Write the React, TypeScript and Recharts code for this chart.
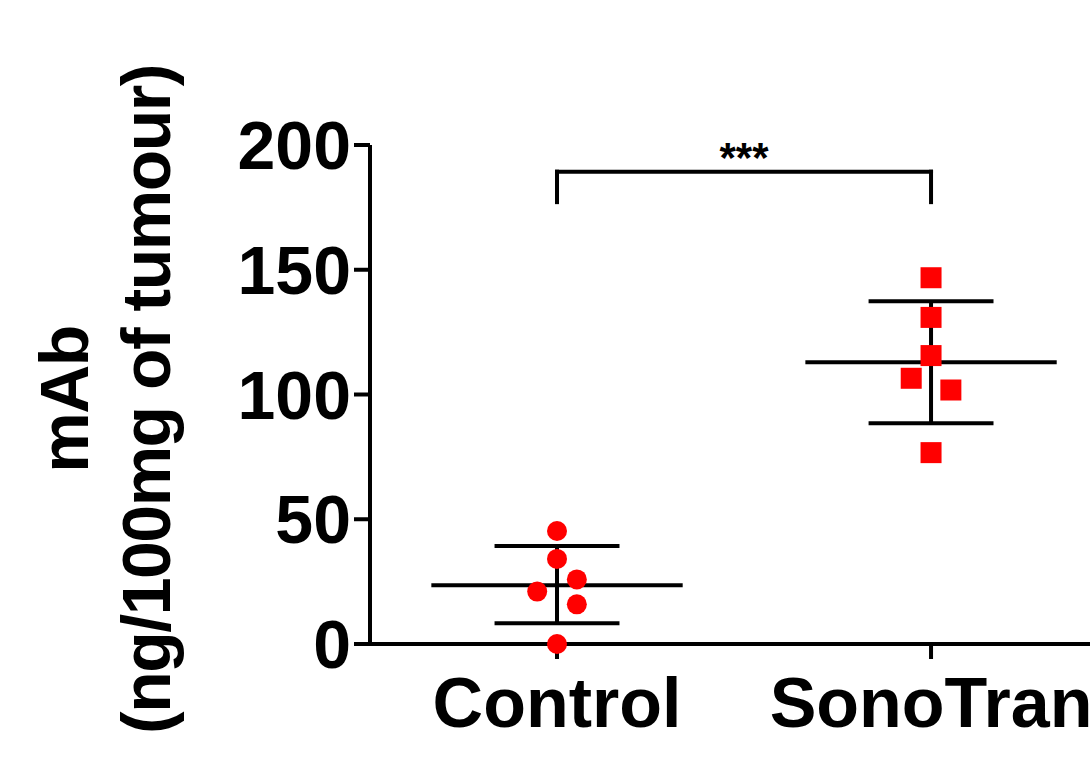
import { ScatterChart, Scatter, XAxis, YAxis, ReferenceLine } from 'recharts';

// group positions on the numeric x axis
const GROUPS = ['Control', 'SonoTran'];
const GROUP_POS = [1, 2];

// individual animals (x = jittered group position)
const CONTROL_X = [1, 1, 1.053, 0.947, 1.053, 1];
const CONTROL_Y = [45.3, 34.1, 25.9, 21.0, 15.9, 0];
const SONO_X = [2, 2, 2, 1.947, 2.053, 2];
const SONO_Y = [146.8, 130.9, 115.6, 106.5, 101.8, 76.7];

// mean +/- SD
const MEANS = [23.5, 112.9];
const SD_UPPER = [39.3, 137.4];
const SD_LOWER = [8.3, 88.5];

const Y_TICKS = [0, 50, 100, 150, 200];
const BRACKET_TOP = 189.3;
const BRACKET_BOTTOM = 177.1;
const SIGNIF = '***';

const FONT = '"Liberation Sans", Arial, Helvetica, sans-serif';
const MEAN_HALF = 0.336;
const SD_HALF = 0.167;
const LINE_W = 4;

const controlData = CONTROL_X.map((x, i) => ({ x, y: CONTROL_Y[i] }));
const sonoData = SONO_X.map((x, i) => ({ x, y: SONO_Y[i] }));

const RedCircle = (p: any) => <circle cx={p.cx} cy={p.cy} r={10} fill="#ff0000" />;
const RedSquare = (p: any) => (
  <rect x={p.cx - 10.5} y={p.cy - 10.5} width={21} height={21} fill="#ff0000" />
);

const YTitle = (props: any) => {
  const vb = props.viewBox || { y: 145, height: 499 };
  const cy = vb.y + vb.height / 2 + 5;
  const style = { fontFamily: FONT, fontWeight: 700, fontSize: 68, letterSpacing: -1.5 };
  return (
    <g>
      <text x={88} y={cy} textAnchor="middle" transform={`rotate(-90 88 ${cy})`} style={style} fill="#000">
        mAb
      </text>
      <text x={170} y={cy} textAnchor="middle" transform={`rotate(-90 170 ${cy})`} style={style} fill="#000">
        (ng/100mg of tumour)
      </text>
    </g>
  );
};

const Stars = (props: any) => {
  const vb = props.viewBox;
  if (!vb) return null;
  return (
    <text
      x={vb.x + vb.width / 2}
      y={vb.y}
      textAnchor="middle"
      style={{ fontFamily: FONT, fontWeight: 700, fontSize: 42 }}
      fill="#000"
    >
      {SIGNIF}
    </text>
  );
};

export default function App() {
  return (
    <div style={{ position: 'absolute', left: 0, top: 0, background: '#fff' }}>
      <ScatterChart width={1090} height={770} margin={{ top: 145, right: 0, bottom: 0, left: 0 }}>
        <XAxis
          type="number"
          dataKey="x"
          domain={[0.5, 2.425]}
          ticks={GROUP_POS}
          tickFormatter={(v: number) => GROUPS[GROUP_POS.indexOf(v)] ?? ''}
          height={126}
          tickSize={15}
          tickMargin={18}
          axisLine={{ stroke: '#000', strokeWidth: LINE_W }}
          tickLine={{ stroke: '#000', strokeWidth: LINE_W }}
          tick={{ fill: '#000', fontFamily: FONT, fontWeight: 700, fontSize: 70 }}
          allowDataOverflow
        />
        <YAxis
          type="number"
          dataKey="y"
          domain={[0, 200]}
          ticks={Y_TICKS}
          width={370}
          tickSize={16}
          tickMargin={3}
          axisLine={{ stroke: '#000', strokeWidth: LINE_W }}
          tickLine={{ stroke: '#000', strokeWidth: LINE_W }}
          tick={{ fill: '#000', fontFamily: FONT, fontWeight: 700, fontSize: 68 }}
          label={<YTitle />}
        />
        <Scatter data={controlData} shape={RedCircle} isAnimationActive={false} />
        <Scatter data={sonoData} shape={RedSquare} isAnimationActive={false} />
        {GROUP_POS.map((g, i) => (
          <ReferenceLine
            key={`mean-${g}`}
            segment={[{ x: g - MEAN_HALF, y: MEANS[i] }, { x: g + MEAN_HALF, y: MEANS[i] }]}
            stroke="#000"
            strokeWidth={LINE_W}
          />
        ))}
        {GROUP_POS.map((g, i) => (
          <ReferenceLine
            key={`sdu-${g}`}
            segment={[{ x: g - SD_HALF, y: SD_UPPER[i] }, { x: g + SD_HALF, y: SD_UPPER[i] }]}
            stroke="#000"
            strokeWidth={LINE_W}
          />
        ))}
        {GROUP_POS.map((g, i) => (
          <ReferenceLine
            key={`sdl-${g}`}
            segment={[{ x: g - SD_HALF, y: SD_LOWER[i] }, { x: g + SD_HALF, y: SD_LOWER[i] }]}
            stroke="#000"
            strokeWidth={LINE_W}
          />
        ))}
        {GROUP_POS.map((g, i) => (
          <ReferenceLine
            key={`sdv-${g}`}
            segment={[{ x: g, y: SD_LOWER[i] }, { x: g, y: SD_UPPER[i] }]}
            stroke="#000"
            strokeWidth={LINE_W}
          />
        ))}
        <ReferenceLine
          segment={[{ x: GROUP_POS[0], y: BRACKET_TOP }, { x: GROUP_POS[1], y: BRACKET_TOP }]}
          stroke="#000"
          strokeWidth={LINE_W}
          strokeLinecap="square"
          label={<Stars />}
        />
        {GROUP_POS.map((g) => (
          <ReferenceLine
            key={`br-${g}`}
            segment={[{ x: g, y: BRACKET_TOP }, { x: g, y: BRACKET_BOTTOM }]}
            stroke="#000"
            strokeWidth={LINE_W}
            strokeLinecap="square"
          />
        ))}
      </ScatterChart>
    </div>
  );
}
